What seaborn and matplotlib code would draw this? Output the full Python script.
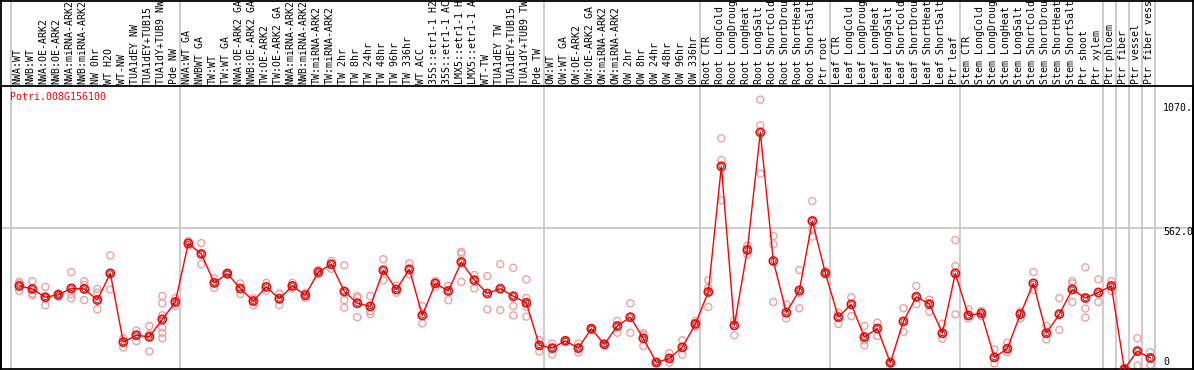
import numpy as np
import pandas as pd
import matplotlib
matplotlib.use("Agg")
import matplotlib.pyplot as plt
import matplotlib.transforms as mtransforms
import seaborn as sns

gene = "Potri.008G156100"

# sample names as far as they are visible in the header strip
samples = [
    "NWA:WT", "NWB:WT", "NWA:OE-ARK2", "NWB:OE-ARK2", "NWA:miRNA-ARK2", "NWB:miRNA-ARK2",
    "NW 0hr", "WT H2O", "WT-NW", "TUA1dEY NW", "TUA1dEY+TUB15", "TUA1dY+TUB9 NW", "Pde NW",
    "NWA:WT GA", "NWBWT GA", "TW:WT", "TW:WT GA", "NWA:OE-ARK2 GA", "NWB:OE-ARK2 GA",
    "TW:OE-ARK2", "TW:OE-ARK2 GA", "NWA:miRNA-ARK2", "NWB:miRNA-ARK2", "TW:miRNA-ARK2",
    "TW:miRNA-ARK2", "TW 2hr", "TW 8hr", "TW 24hr", "TW 48hr", "TW 96hr", "TW 336hr",
    "WT ACC", "35S::etr1-1 H2", "35S::etr1-1 AC", "LMX5::etr1-1 H", "LMX5::etr1-1 A",
    "WT-TW", "TUA1dEY TW", "TUA1dEY+TUB15", "TUA1dY+TUB9 TW", "Pde TW",
    "OW:WT", "OW:WT GA", "OW:OE-ARK2", "OW:OE-ARK2 GA", "OW:miRNA-ARK2", "OW:miRNA-ARK2",
    "OW 2hr", "OW 8hr", "OW 24hr", "OW 48hr", "OW 96hr", "OW 336hr",
    "Root CTR", "Root LongCold", "Root LongDroug", "Root LongHeat", "Root LongSalt",
    "Root ShortCold", "Root ShortDrou", "Root ShortHeat", "Root ShortSalt", "Ptr root",
    "Leaf CTR", "Leaf LongCold", "Leaf LongDroug", "Leaf LongHeat", "Leaf LongSalt",
    "Leaf ShortCold", "Leaf ShortDrou", "Leaf ShortHeat", "Leaf ShortSalt", "Ptr leaf",
    "Stem CTR", "Stem LongCold", "Stem LongDroug", "Stem LongHeat", "Stem LongSalt",
    "Stem ShortCold", "Stem ShortDrou", "Stem ShortHeat", "Stem ShortSalt",
    "Ptr shoot", "Ptr xylem", "Ptr phloem", "Ptr fiber", "Ptr vessel", "Ptr fiber vess",
]

means = [
    330, 318, 285, 295, 320, 318, 274, 380, 107, 134, 128, 197, 266,
    499, 457, 342, 379, 320, 270, 326, 279, 330, 293, 385, 416, 308, 261, 249, 392, 316,
    396, 213, 340, 310, 425, 353, 300, 319, 289, 263,
    94, 83, 112, 83, 160, 98, 171, 206, 122, 26, 42, 86, 179,
    306, 805, 173, 473, 940, 429, 224, 312, 588, 381,
    206, 257, 127, 161, 25, 189, 287, 258, 142, 380,
    213, 221, 46, 81, 218, 340, 142, 218, 316, 282, 304,
    330, 0, 71, 44,
]

reps = [
    [346, 340, 310], [349, 300, 293], [326, 285, 253], [300, 295, 287],
    [385, 297, 281], [349, 334, 274], [318, 303, 237], [451, 380, 316],
    [122, 85], [153, 111], [171, 138, 70], [290, 261, 213, 164, 144, 122],
    [282, 250], [508, 491], [500, 416], [360, 322], [383, 375], [340, 298],
    [281, 253], [342, 311], [300, 254], [342, 319], [303, 283], [393, 376],
    [429, 398], [412, 274, 244], [290, 283, 206], [290, 230, 218], [436, 352],
    [332, 303], [420, 376], [250, 181], [349, 327], [330, 273],
    [465, 458, 346], [373, 320], [369, 237], [416, 234], [402, 250, 213],
    [356, 282, 248, 208],
    [115, 69], [101, 58], [114, 110], [101, 65], [164, 157], [100, 96],
    [191, 144], [261, 144], [143, 136, 91], [28, 24], [63, 25], [114, 57],
    [191, 168],
    [353, 323, 246], [916, 830, 670], [193, 134], [455, 490], [1070, 968, 776],
    [528, 495, 266], [257, 201], [393, 303, 241], [667, 557, 526], [389, 376],
    [224, 179], [285, 210], [171, 114, 94], [184, 131], [28, 22], [241, 148],
    [330, 257], [275, 228], [180, 120], [512, 409, 217],
    [237, 201], [230, 210], [78, 22], [105, 67], [228, 201], [385, 314],
    [171, 118], [281, 155], [349, 340, 266], [404, 240, 204], [356, 266],
    [349, 310], [0], [122, 14], [67, 17],
]

group_ends = [-1, 12, 40, 52, 62, 72, 83, 84, 85, 86, 87]
y_max = 1124
y_grid = 562.0
y_labels = ["1070.", "562.0", "0"]

W, H = 1194, 370
mono = "DejaVu Sans Mono"
fs = 7.1

rep_df = pd.DataFrame([(i, v) for i, r in enumerate(reps) for v in r],
                      columns=["pos", "value"])
mean_df = pd.DataFrame({"pos": np.arange(len(means)), "value": means})

fig = plt.figure(figsize=(W / 100, H / 100), dpi=100)
ax = fig.add_axes([1 / W, 1 / H, 1192 / W, 283 / H])
ax.set_xlim(-1.408, 90.28)
ax.set_ylim(0, y_max)
ax.set_xticks([])
ax.set_yticks([])
for sp in ax.spines.values():
    sp.set_color("black")
    sp.set_linewidth(1.3)

grey = "#c4c4c4"
for g in group_ends:
    ax.axvline(g + 0.36, ymin=0, ymax=369 / 283, color=grey, lw=1.2,
               clip_on=False, zorder=0)
ax.axhline(y_grid, color=grey, lw=1.2, zorder=0)

# replicates
sns.scatterplot(data=rep_df, x="pos", y="value", s=26, ax=ax, legend=False, zorder=2)
c = ax.collections[-1]
c.set_facecolor("none")
c.set_edgecolor("#ee9a9a")
c.set_linewidth(0.9)

# mean line + markers
sns.lineplot(data=mean_df, x="pos", y="value", color="red", lw=1.0, ax=ax, zorder=3)
sns.scatterplot(data=mean_df, x="pos", y="value", s=34, ax=ax, legend=False, zorder=4)
c = ax.collections[-1]
c.set_facecolor("none")
c.set_edgecolor("red")
c.set_linewidth(1.2)
sns.scatterplot(data=mean_df, x="pos", y="value", s=12, ax=ax, legend=False, zorder=5)
c = ax.collections[-1]
c.set_facecolor("none")
c.set_edgecolor("#300000")
c.set_linewidth(0.4)
ax.set_xlabel("")
ax.set_ylabel("")

# sample labels on top
tr = mtransforms.blended_transform_factory(ax.transData, fig.transFigure)
for i, s in enumerate(samples):
    ax.text(i - 0.12, (H - 84) / H, s, rotation=90, ha="center", va="bottom",
            family=mono, fontsize=fs, transform=tr, clip_on=False)

fig.text(10 / W, (H - 97) / H, gene, color="red", family=mono, fontsize=fs,
         ha="left", va="center")
for lab, yp in zip(y_labels, [107.7, 231.7, 362]):
    fig.text(1163 / W, (H - yp) / H, lab, family=mono, fontsize=fs,
             ha="left", va="center")

# outer frame
fig.add_artist(plt.Line2D([0, 1], [1 - 0.6 / H, 1 - 0.6 / H], color="black", lw=1.3,
                          transform=fig.transFigure))
fig.add_artist(plt.Line2D([1 / W, 1 / W], [0, 1], color="black", lw=1.3,
                          transform=fig.transFigure))
fig.add_artist(plt.Line2D([1193 / W, 1193 / W], [0, 1], color="black", lw=1.3,
                          transform=fig.transFigure))

fig.savefig("out.png", dpi=100)
